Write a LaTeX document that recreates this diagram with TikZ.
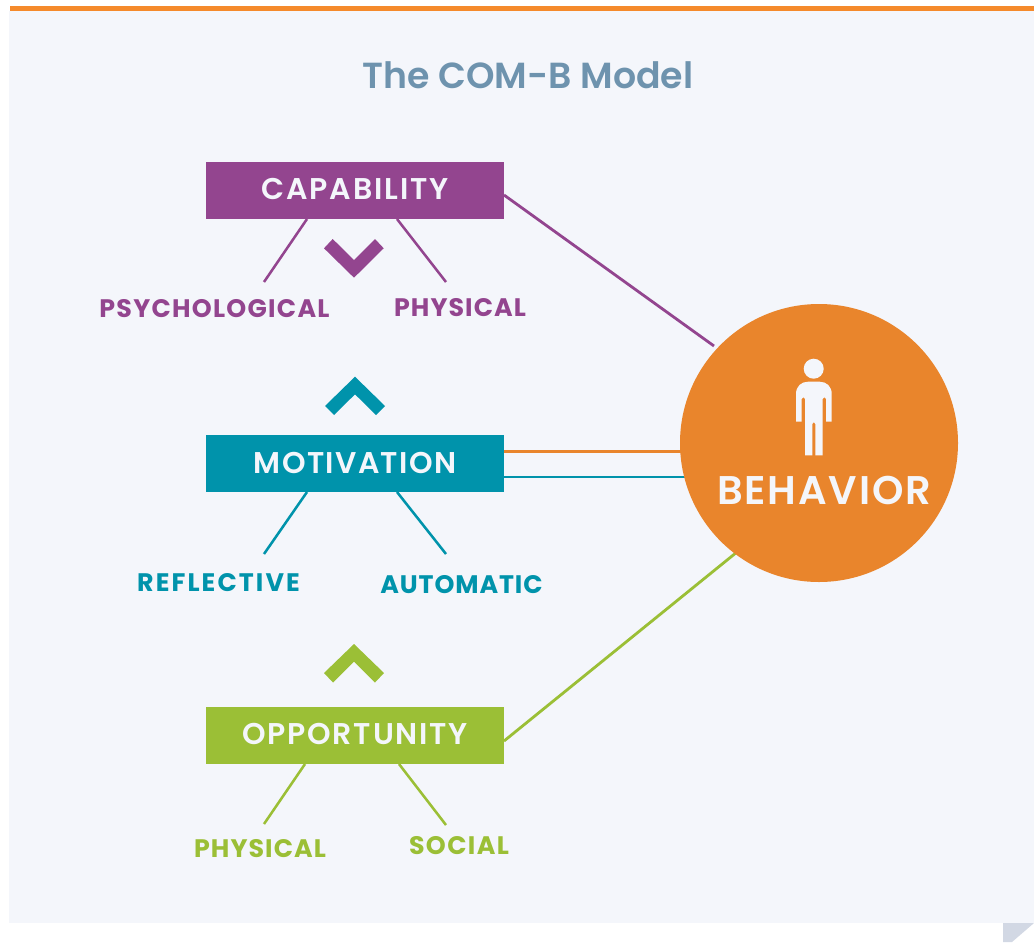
\documentclass[tikz,border=0pt]{standalone}
\usepackage{fontspec}
\setmainfont{Poppins}
\newfontfamily\semifont{Poppins SemiBold}
\newcommand{\spaced}[1]{\addfontfeature{LetterSpace=#1}}
\definecolor{cpurple}{HTML}{93458F}
\definecolor{cteal}{HTML}{0093AB}
\definecolor{cgreen}{HTML}{9BBF36}
\definecolor{corange}{HTML}{E9852C}
\definecolor{cbar}{HTML}{F58A2B}
\definecolor{cbg}{HTML}{F4F6FB}
\definecolor{ctitle}{HTML}{6E93AE}
\definecolor{cfold}{HTML}{D2D8E4}
\tikzset{
  x=0.75pt,y=-0.75pt,
  stage/.style={draw=none,fill=#1,minimum width=223.5pt,minimum height=42.75pt,inner sep=0pt,text=cbg,font=\semifont\fontsize{22.5}{24}\selectfont,text height=15.8pt,text depth=2pt},
  sublabel/.style={text=#1,inner sep=0pt,font=\bfseries\fontsize{19}{22}\selectfont,text height=13.3pt,text depth=0pt},
  link/.style={draw=#1,line width=2.1pt},
  sublink/.style={draw=#1,line width=1.9pt},
}
\begin{document}
\begin{tikzpicture}
\useasboundingbox (0,0) rectangle (1034,942);
\fill[white] (0,0) rectangle (1034,942);
\fill[cbg] (9,11) rectangle (1034,923);
\fill[cbar] (10,6) rectangle (1034,11);
\fill[cfold] (1003,923) -- (1034,923) -- (1012,942) -- (1003,942) -- cycle;
\node[inner sep=0pt,text=ctitle,font=\semifont\fontsize{27.2}{30}\selectfont] (title) at (528,75) {The COM-B Model};

\node[stage=cpurple] (cap) at (355,190.5) {\spaced{6.5}CAPABILITY};
\node[stage=cteal] (mot) at (355,463.5) {\raisebox{-0.7pt}{\spaced{4.5}MOTIVATION}};
\node[stage=cgreen] (opp) at (355,735.5) {\spaced{6}OPPORTUNITY};

\node[sublabel=cpurple] (psy) at (214.5,309) {\spaced{5}PSYCHOLOGICAL};
\node[sublabel=cpurple] (phy) at (460,308) {\spaced{4.2}PHYSICAL};
\node[sublabel=cteal] (ref) at (218.5,583) {\spaced{8.3}REFLECTIVE};
\node[sublabel=cteal] (aut) at (461.5,585) {\spaced{3.5}AUTOMATIC};
\node[sublabel=cgreen] (phb) at (260,848.5) {\spaced{4.2}PHYSICAL};
\node[sublabel=cgreen] (soc) at (459,846) {\spaced{5.5}SOCIAL};

% connector ends
\coordinate (capE) at (504,195); \coordinate (behA) at (714,346);
\coordinate (motE1) at (504,451.5); \coordinate (behB) at (685,451.5);
\coordinate (motE2) at (504,477); \coordinate (behC) at (685,477);
\coordinate (oppE) at (504,741); \coordinate (behD) at (737,552);
\coordinate (c1) at (307,219); \coordinate (c1e) at (264,282);
\coordinate (c2) at (397,219); \coordinate (c2e) at (446,282);
\coordinate (m1) at (307,492); \coordinate (m1e) at (264,554);
\coordinate (m2) at (397,492); \coordinate (m2e) at (446,554);
\coordinate (o1) at (305,764); \coordinate (o1e) at (264,824);
\coordinate (o2) at (399,764); \coordinate (o2e) at (446,825);

\draw[link=cpurple] (capE) -- (behA);
\draw[link=corange] (motE1) -- (behB);
\draw[link=cteal] (motE2) -- (behC);
\draw[link=cgreen] (oppE) -- (behD);
\draw[sublink=cpurple] (c1) -- (c1e);
\draw[sublink=cpurple] (c2) -- (c2e);
\draw[sublink=cteal] (m1) -- (m1e);
\draw[sublink=cteal] (m2) -- (m2e);
\draw[sublink=cgreen] (o1) -- (o1e);
\draw[sublink=cgreen] (o2) -- (o2e);

\node[circle,fill=corange,minimum size=208.5pt,inner sep=0pt] (behavior) at (819,443) {};
\node[inner sep=0pt,text=cbg,font=\semifont\fontsize{30}{32}\selectfont,text height=21pt,text depth=0pt] (beh) at (824,490) {\spaced{4.6}BEHAVIOR};

% chevrons
\fill[cpurple] (324,248.3) -- (332.7,239) -- (354,260) -- (375,239) -- (383.7,248.3) -- (354,277.7) -- cycle;
\fill[cteal] (325,406) -- (355,376.7) -- (385,406) -- (376,415) -- (355,394.3) -- (334,415) -- cycle;
\fill[cgreen] (324,673) -- (354,644) -- (384,673) -- (375,682.5) -- (354,661.5) -- (333,682.5) -- cycle;

% person
\fill[cbg] (813.7,368.7) circle[radius=7.5pt];
\fill[cbg] (796,421.7) -- (796,394) .. controls (796,386.5) and (801,381.7) .. (808,381.7) -- (819.7,381.7) .. controls (826.7,381.7) and (831.7,386.5) .. (831.7,394) -- (831.7,421.7) -- (826,421.7) -- (826,399) .. controls (826,396.8) and (822.7,396.8) .. (822.7,399) -- (822.7,455.3) -- (815.3,455.3) -- (815.3,424) .. controls (815.3,421.5) and (812.3,421.5) .. (812.3,424) -- (812.3,455.3) -- (805,455.3) -- (805,399) .. controls (805,396.8) and (801.7,396.8) .. (801.7,399) -- (801.7,421.7) -- cycle;
\end{tikzpicture}
\end{document}
